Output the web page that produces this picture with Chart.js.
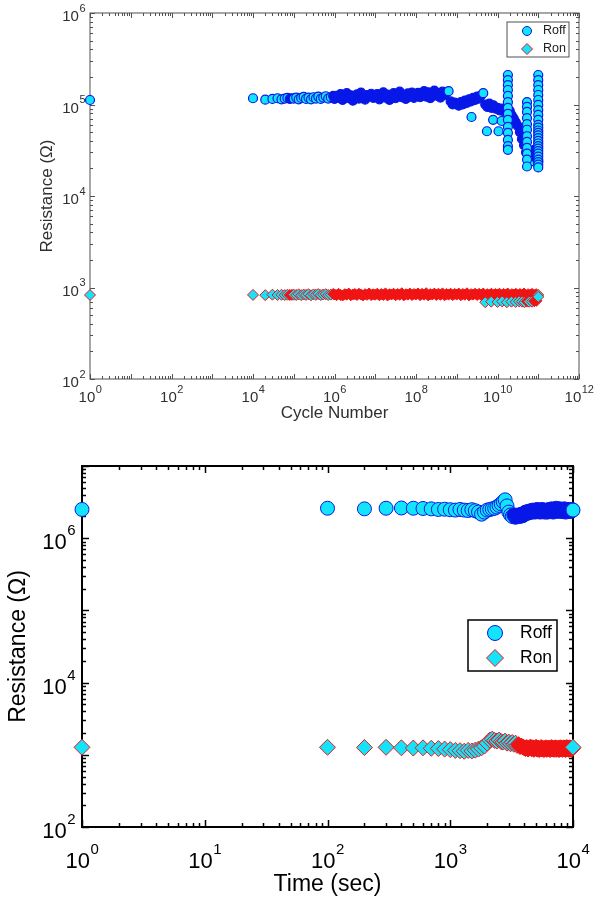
<!DOCTYPE html>
<html>
<head>
<meta charset="utf-8">
<script src="https://cdn.jsdelivr.net/npm/chart.js@4.4.1/dist/chart.umd.min.js"></script>
<style>
    html, body { margin: 0; padding: 0; background: #fff; }
    #top { position: absolute; left: 0; top: 0; width: 595px; height: 430px; }
    #bottom { position: absolute; left: 0; top: 430px; width: 595px; height: 474px; }
</style>
</head>
<body>
<div id="top"><canvas id="endurance"></canvas></div>
<div id="bottom"><canvas id="retention"></canvas></div>
<script>
// ---- endurance data (top plot) ----
const cycles = [
    1,
    1e4, 2e4, 3e4, 4e4, 5e4, 6e4, 7e4, 8e4, 9e4,
    1e5, 1.15e5, 1.32e5, 1.52e5, 1.75e5, 2e5, 2.3e5, 2.65e5, 3.05e5, 3.5e5, 4e5, 4.6e5, 5.3e5, 6.1e5, 7e5, 8.1e5, 9.3e5,
    1e6, 1.12e6, 1.26e6, 1.41e6, 1.58e6, 1.78e6, 2e6, 2.24e6, 2.51e6, 2.82e6, 3.16e6, 3.55e6, 3.98e6, 4.47e6, 5.01e6, 5.62e6, 6.31e6, 7.08e6, 7.94e6, 8.91e6,
    1e7, 1.12e7, 1.26e7, 1.41e7, 1.58e7, 1.78e7, 2e7, 2.24e7, 2.51e7, 2.82e7, 3.16e7, 3.55e7, 3.98e7, 4.47e7, 5.01e7, 5.62e7, 6.31e7, 7.08e7, 7.94e7, 8.91e7,
    1e8, 1.12e8, 1.26e8, 1.41e8, 1.58e8, 1.78e8, 2e8, 2.24e8, 2.51e8, 2.82e8, 3.16e8, 3.55e8, 3.98e8, 4.47e8, 5.01e8, 5.62e8, 6.31e8, 7.08e8, 7.94e8, 8.91e8,
    1e9, 1.12e9, 1.26e9, 1.41e9, 1.58e9, 1.78e9, 2e9, 2.24e9, 2.51e9, 2.82e9, 3.16e9, 3.55e9, 3.98e9, 4.47e9, 5.01e9, 5.62e9, 6.31e9, 7.08e9, 7.94e9, 8.91e9,
    1e10, 1.12e10, 1.26e10, 1.41e10, 1.58e10, 1.78e10, 2e10, 2.24e10, 2.51e10, 2.82e10, 3.16e10, 3.55e10, 3.98e10, 4.47e10, 5.01e10, 5.62e10, 6.31e10, 7.08e10, 7.94e10, 8.91e10,
    1e11
];
const roffCycle = [
    1.12e5,
    1.17e5, 1.13e5, 1.15e5, 1.17e5, 1.14e5, 1.16e5, 1.18e5, 1.15e5, 1.17e5,
    1.16e5, 1.19e5, 1.14e5, 1.18e5, 1.21e5, 1.15e5, 1.19e5, 1.14e5, 1.2e5, 1.16e5, 1.22e5, 1.15e5, 1.19e5, 1.23e5, 1.16e5, 1.2e5, 1.24e5,
    1.15e5, 1.24e5, 1.19e5, 1.3e5, 1.12e5, 1.22e5, 1.33e5, 1.17e5, 1.26e5, 1.1e5, 1.21e5, 1.29e5, 1.16e5, 1.35e5, 1.2e5, 1.13e5, 1.27e5, 1.23e5, 1.31e5, 1.18e5,
    1.21e5, 1.3e5, 1.14e5, 1.26e5, 1.36e5, 1.19e5, 1.28e5, 1.12e5, 1.24e5, 1.33e5, 1.17e5, 1.29e5, 1.38e5, 1.2e5, 1.25e5, 1.15e5, 1.32e5, 1.22e5, 1.35e5, 1.18e5,
    1.24e5, 1.34e5, 1.2e5, 1.3e5, 1.4e5, 1.22e5, 1.36e5, 1.17e5, 1.29e5, 1.42e5, 1.25e5, 1.33e5, 1.19e5, 1.38e5, 1.27e5, 1.35e5, 1.4e5, 1.08e5, 1.0e5, 1.05e5,
    1.02e5, 0.97e5, 1.06e5, 1.0e5, 1.1e5, 1.04e5, 1.14e5, 1.08e5, 1.18e5, 1.12e5, 1.22e5, 1.16e5, 1.26e5, 1.33e5, 1.0e5, 0.94e5, 1.02e5, 0.92e5, 0.98e5, 0.9e5,
    0.92e5, 0.86e5, 0.9e5, 0.84e5, 0.88e5, 0.8e5, 0.85e5, 0.76e5, 0.7e5, 0.64e5, 0.58e5, 0.5e5, 0.42e5, 0.36e5, 0.3e5, 0.26e5, 0.28e5, 0.24e5, 0.32e5, 0.26e5,
    2.4e4
];
const ronCycle = [
    828,
    830, 825, 835, 828, 832, 826, 834, 829, 831,
    835, 828, 842, 825, 838, 830, 845, 822, 840, 832, 848, 826, 838, 844, 828, 836, 850,
    840, 825, 852, 830, 818, 845, 835, 858, 822, 840, 848, 828, 855, 836, 820, 846, 832, 860, 826, 842,
    835, 855, 822, 848, 830, 862, 818, 845, 838, 856, 825, 850, 832, 865, 820, 844, 836, 858, 828, 848,
    840, 860, 825, 852, 835, 866, 820, 846, 838, 858, 828, 855, 832, 862, 822, 848, 836, 856, 826, 850,
    838, 858, 824, 850, 834, 864, 820, 846, 836, 856, 828, 852, 830, 860, 822, 846, 834, 855, 826, 848,
    840, 856, 824, 850, 832, 860, 820, 846, 836, 854, 826, 850, 830, 858, 822, 845, 834, 852, 828, 846,
    830
];
// scattered Roff readings late in the test
const roffOutX = [2.3e9, 5.5e9, 7.8e9, 1.06e10, 1.27e10];
const roffOutY = [7.3e4, 5.1e4, 6.8e4, 5.1e4, 6.6e4];
const roffColumnX = [1.8e10, 5.3e10, 1e11];
const roffColumnY = [
    [2.1e5, 1.85e5, 1.63e5, 1.44e5, 1.24e5, 1.06e5, 9.2e4, 7.9e4, 6.8e4, 5.7e4, 4.9e4, 4.1e4, 3.5e4, 3.2e4],
    [1.06e5, 9.4e4, 8.3e4, 7.1e4, 6.1e4, 5.3e4, 4.5e4, 3.9e4, 3.35e4, 2.9e4, 2.5e4, 2.1e4],
    [2.1e5, 1.85e5, 1.63e5, 1.44e5, 1.27e5, 1.12e5, 9.9e4, 8.7e4, 7.7e4, 6.8e4, 6e4,
     5.6e4, 5.2e4, 4.9e4, 4.6e4, 4.3e4, 4e4, 3.75e4, 3.5e4, 3.3e4, 3.1e4, 2.9e4, 2.7e4, 2.5e4, 2.35e4, 2.2e4, 2.05e4]
];
// Ron readings dropping below the band
const ronOutX = [5e9, 7e9, 1e10, 1.3e10, 1.7e10, 2.2e10, 2.8e10, 3.4e10, 4e10, 4.6e10, 5.3e10, 6e10, 7e10, 8e10, 9e10, 1e11];
const ronOutY = [690, 700, 695, 705, 690, 700, 695, 705, 700, 690, 705, 698, 700, 708, 715, 790];

// ---- retention data (bottom plot) ----
const retTime = [
    1,
    100, 200, 300, 400, 500, 600, 700, 800, 900, 1000,
    1100, 1200, 1300, 1400, 1500, 1600, 1700, 1800, 1900, 2000,
    2100, 2200, 2300, 2400, 2500, 2600, 2700, 2800, 2900, 3000,
    3100, 3200, 3300, 3400, 3500, 3600, 3700, 3800, 3900, 4000,
    4100, 4200, 4300, 4400, 4500, 4600, 4700, 4800, 4900, 5000,
    5100, 5200, 5300, 5400, 5500, 5600, 5700, 5800, 5900, 6000,
    6100, 6200, 6300, 6400, 6500, 6600, 6700, 6800, 6900, 7000,
    7100, 7200, 7300, 7400, 7500, 7600, 7700, 7800, 7900, 8000,
    8100, 8200, 8300, 8400, 8500, 8600, 8700, 8800, 8900, 9000,
    9100, 9200, 9300, 9400, 9500, 9600, 9700, 9800, 9900, 10000
];
const retRoff = [
    2.5e6,
    2.6e6, 2.55e6, 2.6e6, 2.62e6, 2.6e6, 2.58e6, 2.55e6, 2.5e6, 2.52e6, 2.48e6,
    2.45e6, 2.5e6, 2.45e6, 2.42e6, 2.48e6, 2.4e6, 2.3e6, 2.15e6, 2.3e6, 2.45e6,
    2.5e6, 2.55e6, 2.6e6, 2.7e6, 2.85e6, 3.0e6, 3.2e6, 3.4e6, 2.8e6, 2.3e6,
    2.1e6, 2.0e6, 2.1e6, 1.95e6, 2.05e6, 2.1e6, 2.0e6, 2.15e6, 2.05e6, 2.2e6,
    2.3e6, 2.2e6, 2.35e6, 2.25e6, 2.4e6, 2.3e6, 2.45e6, 2.35e6, 2.3e6, 2.4e6,
    2.5e6, 2.35e6, 2.45e6, 2.3e6, 2.4e6, 2.5e6, 2.35e6, 2.45e6, 2.3e6, 2.4e6,
    2.45e6, 2.3e6, 2.4e6, 2.5e6, 2.35e6, 2.45e6, 2.55e6, 2.4e6, 2.3e6, 2.45e6,
    2.5e6, 2.4e6, 2.6e6, 2.45e6, 2.35e6, 2.5e6, 2.4e6, 2.55e6, 2.45e6, 2.35e6,
    2.4e6, 2.5e6, 2.35e6, 2.45e6, 2.55e6, 2.4e6, 2.3e6, 2.45e6, 2.5e6, 2.4e6,
    2.45e6, 2.35e6, 2.5e6, 2.4e6, 2.45e6, 2.35e6, 2.4e6, 2.5e6, 2.45e6, 2.45e6
];
const retRon = [
    1270,
    1270, 1260, 1270, 1250, 1240, 1250, 1230, 1220, 1200, 1180,
    1150, 1140, 1120, 1150, 1130, 1160, 1200, 1250, 1320, 1450,
    1600, 1650, 1580, 1550, 1600, 1520, 1500, 1550, 1450, 1500,
    1420, 1480, 1400, 1450, 1350, 1380, 1300, 1320, 1280, 1250,
    1220, 1260, 1200, 1240, 1280, 1210, 1250, 1190, 1230, 1270,
    1200, 1240, 1180, 1220, 1260, 1200, 1230, 1180, 1220, 1250,
    1190, 1230, 1200, 1240, 1180, 1220, 1260, 1200, 1230, 1190,
    1220, 1250, 1190, 1230, 1200, 1240, 1180, 1220, 1250, 1200,
    1230, 1190, 1220, 1250, 1200, 1240, 1180, 1220, 1260, 1210,
    1240, 1190, 1220, 1250, 1200, 1230, 1190, 1220, 1240, 1270
];

const CYAN = '#14e4fb';
const BLUE = '#0818e8';
const RED = '#f01414';
const FONT = '"Liberation Sans", Arial, Helvetica, sans-serif';

const toPoints = (xs, ys) => xs.map((x, i) => ({ x: x, y: ys[i] }));

// where markers pile up side by side only their outlines stay visible,
// so a dense run is filled with the outline colour
const pileFill = (face, edge, near, reach) => c => {
    const next = c.dataset.data[c.dataIndex + 1];
    if (!next || !c.raw) return face;
    const sx = c.chart.scales.x, sy = c.chart.scales.y;
    const dx = sx.getPixelForValue(next.x) - sx.getPixelForValue(c.raw.x);
    const dy = sy.getPixelForValue(next.y) - sy.getPixelForValue(c.raw.y);
    return dx > 0.01 && dx < near && Math.abs(dy) < reach ? edge : face;
};

// "10" with a raised exponent, like matlab tick labels
function drawPow(ctx, exp, x, y, size, supSize, align) {
    ctx.font = size + 'px ' + FONT;
    const w1 = ctx.measureText('10').width;
    ctx.font = supSize + 'px ' + FONT;
    const w2 = ctx.measureText(String(exp)).width;
    const left = align === 'right' ? x - w1 - w2 : x - (w1 + w2) / 2;
    ctx.textAlign = 'left';
    ctx.textBaseline = 'middle';
    ctx.font = size + 'px ' + FONT;
    ctx.fillText('10', left, y);
    ctx.font = supSize + 'px ' + FONT;
    ctx.fillText(String(exp), left + w1 + 0.5, y - size * 0.55);
}

// boxed axes with inward log ticks on all four sides
const matlabAxes = {
    id: 'matlabAxes',
    beforeDatasetsDraw(chart, args, o) {
        const { ctx, chartArea: a } = chart;
        const xs = chart.scales.x, ys = chart.scales.y;
        ctx.save();
        ctx.strokeStyle = o.color;
        ctx.lineWidth = o.tickWidth;
        ctx.beginPath();
        const xLo = Math.round(Math.log10(xs.min)), xHi = Math.round(Math.log10(xs.max));
        for (let e = xLo; e <= xHi; e++) {
            for (let m = 1; m <= 9; m++) {
                if (e === xHi && m > 1) break;
                const px = Math.round(xs.getPixelForValue(m * Math.pow(10, e))) + 0.5;
                const len = m === 1 ? o.major : o.minor;
                ctx.moveTo(px, a.bottom); ctx.lineTo(px, a.bottom - len);
                ctx.moveTo(px, a.top); ctx.lineTo(px, a.top + len);
            }
        }
        const yLo = Math.round(Math.log10(ys.min)), yHi = Math.round(Math.log10(ys.max));
        for (let e = yLo; e <= yHi; e++) {
            for (let m = 1; m <= 9; m++) {
                if (e === yHi && m > 1) break;
                const py = Math.round(ys.getPixelForValue(m * Math.pow(10, e))) + 0.5;
                const len = m === 1 ? o.major : o.minor;
                ctx.moveTo(a.left, py); ctx.lineTo(a.left + len, py);
                ctx.moveTo(a.right, py); ctx.lineTo(a.right - len, py);
            }
        }
        ctx.stroke();
        ctx.lineWidth = o.lineWidth;
        ctx.strokeRect(a.left, a.top, a.right - a.left, a.bottom - a.top);

        ctx.fillStyle = o.textColor;
        o.xExps.forEach(e => drawPow(ctx, e, xs.getPixelForValue(Math.pow(10, e)),
            a.bottom + o.xLabelOffset, o.tickSize, o.supSize, 'center'));
        o.yExps.forEach(e => drawPow(ctx, e, a.left - o.yLabelGap,
            ys.getPixelForValue(Math.pow(10, e)) + o.yLabelShift, o.tickSize, o.supSize, 'right'));

        ctx.font = o.titleSize + 'px ' + FONT;
        ctx.textAlign = 'center';
        ctx.textBaseline = 'middle';
        ctx.fillText(o.xTitle, (a.left + a.right) / 2, a.bottom + o.xTitleOffset);
        ctx.translate(o.yTitleX, (a.top + a.bottom) / 2);
        ctx.rotate(-Math.PI / 2);
        ctx.fillText(o.yTitle, 0, 0);
        ctx.restore();
    }
};

// legend drawn as a framed box inside the plot
const boxLegend = {
    id: 'boxLegend',
    afterDatasetsDraw(chart, args, o) {
        const ctx = chart.ctx;
        ctx.save();
        ctx.fillStyle = '#fff';
        ctx.fillRect(o.x, o.y, o.w, o.h);
        ctx.strokeStyle = o.color;
        ctx.lineWidth = o.lineWidth;
        ctx.strokeRect(o.x, o.y, o.w, o.h);
        chart.data.datasets.forEach((ds, i) => {
            const cx = o.x + o.markerX;
            const cy = o.y + o.rowTop + i * o.rowGap;
            const r = o.markerR[i];
            ctx.fillStyle = CYAN;
            ctx.strokeStyle = ds.pointBorderColor;
            ctx.lineWidth = o.markerBorder;
            ctx.beginPath();
            if (ds.pointStyle === 'rectRot') {
                ctx.moveTo(cx - r, cy); ctx.lineTo(cx, cy - r);
                ctx.lineTo(cx + r, cy); ctx.lineTo(cx, cy + r);
                ctx.closePath();
            } else {
                ctx.arc(cx, cy, r, 0, Math.PI * 2);
            }
            ctx.fill();
            ctx.stroke();
            ctx.fillStyle = o.textColor;
            ctx.font = o.fontSize + 'px ' + FONT;
            ctx.textAlign = 'left';
            ctx.textBaseline = 'middle';
            ctx.fillText(ds.label, o.x + o.textX, cy);
        });
        ctx.restore();
    }
};

let roffPoints = toPoints(cycles, roffCycle).concat(toPoints(roffOutX, roffOutY));
roffColumnX.forEach((x, k) => {
    roffPoints = roffPoints.concat(roffColumnY[k].map(y => ({ x: x, y: y })));
});
const ronPoints = toPoints(cycles, ronCycle).concat(toPoints(ronOutX, ronOutY));

new Chart(document.getElementById('endurance'), {
    type: 'scatter',
    data: {
        datasets: [{
            label: 'Roff',
            data: roffPoints,
            pointStyle: 'circle',
            pointRadius: 4.5,
            pointBackgroundColor: pileFill(CYAN, BLUE, 2.3, 9),
            pointBorderColor: BLUE,
            pointBorderWidth: 1.2,
            clip: false
        }, {
            label: 'Ron',
            data: ronPoints,
            pointStyle: 'rectRot',
            pointRadius: 5.5,
            pointBackgroundColor: pileFill(CYAN, RED, 2.3, 9),
            pointBorderColor: RED,
            pointBorderWidth: 1,
            clip: false
        }]
    },
    options: {
        responsive: true,
        maintainAspectRatio: false,
        animation: false,
        devicePixelRatio: 1,
        layout: { padding: { left: 90, right: 16, top: 13, bottom: 51 } },
        scales: {
            x: { type: 'logarithmic', min: 1, max: 1e12, display: false },
            y: { type: 'logarithmic', min: 1e2, max: 1e6, display: false }
        },
        plugins: {
            legend: { display: false },
            tooltip: { enabled: false },
            matlabAxes: {
                color: '#505050', textColor: '#303030', lineWidth: 1, tickWidth: 1,
                major: 5, minor: 3,
                xExps: [0, 2, 4, 6, 8, 10, 12], yExps: [2, 3, 4, 5, 6],
                tickSize: 15, supSize: 11, xLabelOffset: 19, yLabelGap: 5, yLabelShift: 4,
                titleSize: 17, xTitle: 'Cycle Number', yTitle: 'Resistance (\u03A9)',
                xTitleOffset: 34, yTitleX: 47
            },
            boxLegend: {
                x: 507, y: 22, w: 62, h: 35, color: '#505050', lineWidth: 1,
                markerX: 20, rowTop: 9, rowGap: 18, markerR: [4.5, 5.5], markerBorder: 1,
                textX: 36, fontSize: 12.5, textColor: '#202020'
            }
        }
    },
    plugins: [matlabAxes, boxLegend]
});

new Chart(document.getElementById('retention'), {
    type: 'scatter',
    data: {
        datasets: [{
            label: 'Roff',
            data: toPoints(retTime, retRoff),
            pointStyle: 'circle',
            pointRadius: 7,
            pointBackgroundColor: pileFill(CYAN, BLUE, 1.6, 14),
            pointBorderColor: BLUE,
            pointBorderWidth: 1,
            clip: false
        }, {
            label: 'Ron',
            data: toPoints(retTime, retRon),
            pointStyle: 'rectRot',
            pointRadius: 8,
            pointBackgroundColor: pileFill(CYAN, RED, 1.5, 16),
            pointBorderColor: RED,
            pointBorderWidth: 1,
            clip: false
        }]
    },
    options: {
        responsive: true,
        maintainAspectRatio: false,
        animation: false,
        devicePixelRatio: 1,
        layout: { padding: { left: 82, right: 22, top: 36, bottom: 77 } },
        scales: {
            x: { type: 'logarithmic', min: 1, max: 1e4, display: false },
            y: { type: 'logarithmic', min: 1e2, max: 1e7, display: false }
        },
        plugins: {
            legend: { display: false },
            tooltip: { enabled: false },
            matlabAxes: {
                color: '#000', textColor: '#000', lineWidth: 2, tickWidth: 1.5,
                major: 7, minor: 4,
                xExps: [0, 1, 2, 3, 4], yExps: [2, 4, 6],
                tickSize: 22, supSize: 15, xLabelOffset: 35, yLabelGap: 7, yLabelShift: 5,
                titleSize: 23, xTitle: 'Time (sec)', yTitle: 'Resistance (\u03A9)',
                xTitleOffset: 58, yTitleX: 19
            },
            boxLegend: {
                x: 468, y: 190, w: 89, h: 51, color: '#000', lineWidth: 1.5,
                markerX: 27, rowTop: 13, rowGap: 25, markerR: [7.5, 8.5], markerBorder: 1,
                textX: 52, fontSize: 17.5, textColor: '#000'
            }
        }
    },
    plugins: [matlabAxes, boxLegend]
});
</script>
</body>
</html>
